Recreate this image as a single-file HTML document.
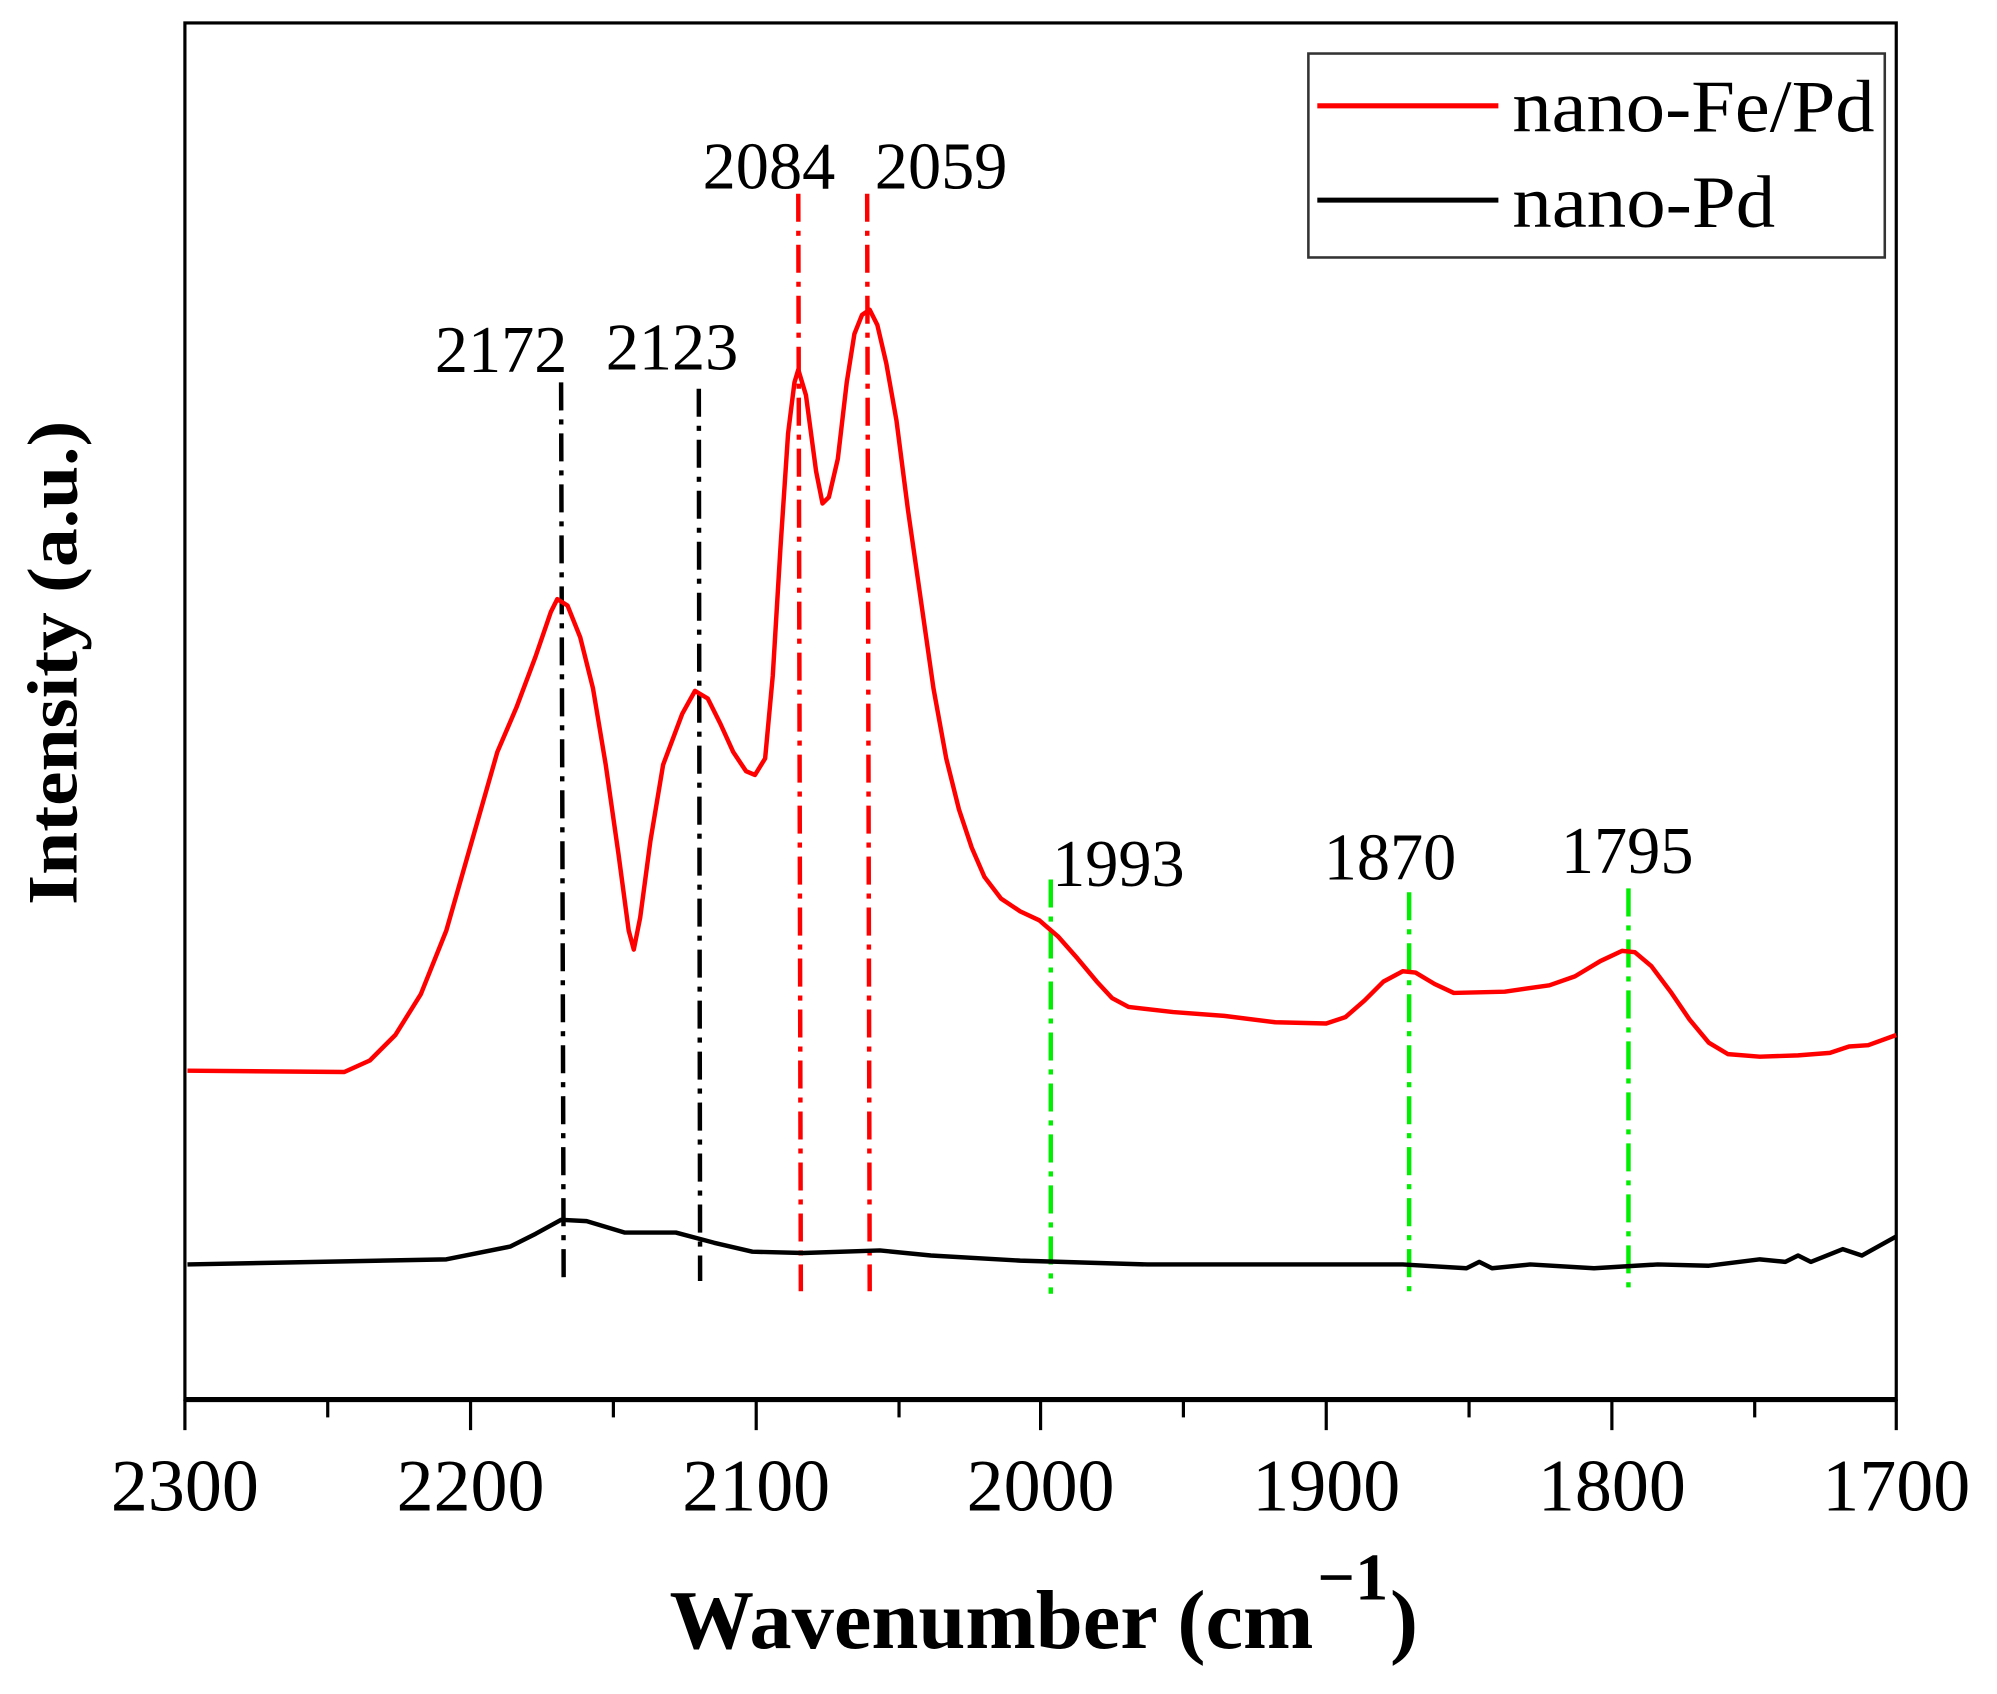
<!DOCTYPE html>
<html><head><meta charset="utf-8"><style>
html,body{margin:0;padding:0;background:#fff;}
svg{display:block;}
text{font-family:"Liberation Serif",serif;}
</style></head><body>
<svg width="1997" height="1694" viewBox="0 0 1566 1329" preserveAspectRatio="none" xmlns="http://www.w3.org/2000/svg">
<rect x="0" y="0" width="1566" height="1329" fill="#fff"/>
<rect x="145" y="18" width="1342" height="1080" fill="none" stroke="#000" stroke-width="2.5"/>
<line x1="145" y1="1098" x2="1487" y2="1098" stroke="#000" stroke-width="4"/>
<g stroke="#000" stroke-width="2.5">
<line x1="145" y1="1098" x2="145" y2="1122"/><line x1="257" y1="1098" x2="257" y2="1112"/>
<line x1="369" y1="1098" x2="369" y2="1122"/><line x1="481" y1="1098" x2="481" y2="1112"/>
<line x1="593" y1="1098" x2="593" y2="1122"/><line x1="705" y1="1098" x2="705" y2="1112"/>
<line x1="816" y1="1098" x2="816" y2="1122"/><line x1="928" y1="1098" x2="928" y2="1112"/>
<line x1="1040" y1="1098" x2="1040" y2="1122"/><line x1="1152" y1="1098" x2="1152" y2="1112"/>
<line x1="1264" y1="1098" x2="1264" y2="1122"/><line x1="1376" y1="1098" x2="1376" y2="1112"/>
<line x1="1487" y1="1098" x2="1487" y2="1122"/>
</g>
<g font-size="58" text-anchor="middle" fill="#000">
<text x="145" y="1185" textLength="116" lengthAdjust="spacingAndGlyphs">2300</text>
<text x="369" y="1185" textLength="116" lengthAdjust="spacingAndGlyphs">2200</text>
<text x="593" y="1185" textLength="116" lengthAdjust="spacingAndGlyphs">2100</text>
<text x="816" y="1185" textLength="116" lengthAdjust="spacingAndGlyphs">2000</text>
<text x="1040" y="1185" textLength="116" lengthAdjust="spacingAndGlyphs">1900</text>
<text x="1264" y="1185" textLength="116" lengthAdjust="spacingAndGlyphs">1800</text>
<text x="1487" y="1185" textLength="116" lengthAdjust="spacingAndGlyphs">1700</text>
</g>
<text x="525" y="1293" font-size="66" font-weight="bold" textLength="505" lengthAdjust="spacingAndGlyphs">Wavenumber (cm</text>
<text x="1033" y="1255" font-size="52" font-weight="bold">−1</text>
<text x="1090" y="1293" font-size="66" font-weight="bold">)</text>
<text transform="translate(60,520) rotate(-90)" font-size="56" font-weight="bold" text-anchor="middle" textLength="380" lengthAdjust="spacingAndGlyphs">Intensity (a.u.)</text>
<rect x="1026" y="42" width="452" height="160" fill="#fff" stroke="#333" stroke-width="2"/>
<line x1="1033" y1="83" x2="1175" y2="83" stroke="#f00" stroke-width="4"/>
<line x1="1033" y1="157" x2="1175" y2="157" stroke="#000" stroke-width="4"/>
<text x="1186" y="103" font-size="58" textLength="284" lengthAdjust="spacingAndGlyphs">nano-Fe/Pd</text>
<text x="1186" y="178" font-size="58" textLength="206" lengthAdjust="spacingAndGlyphs">nano-Pd</text>
<g stroke-width="3.5" stroke-dasharray="22,7,4,7" fill="none">
<line x1="440" y1="300" x2="442" y2="1005" stroke="#000"/>
<line x1="548" y1="305" x2="549" y2="1005" stroke="#000"/>
<line x1="626" y1="152" x2="628" y2="1013" stroke="#f00"/>
<line x1="680" y1="152" x2="682" y2="1013" stroke="#f00"/>
<line x1="824" y1="690" x2="824" y2="1015" stroke="#0e0"/>
<line x1="1105" y1="700" x2="1105" y2="1015" stroke="#0e0"/>
<line x1="1277" y1="697" x2="1277" y2="1010" stroke="#0e0"/>
</g>
<g font-size="52" text-anchor="middle">
<text x="393" y="292">2172</text><text x="527" y="290">2123</text>
<text x="603" y="148">2084</text><text x="738" y="148">2059</text>
<text x="877" y="695">1993</text><text x="1090" y="690">1870</text><text x="1276" y="685">1795</text>
</g>
<polyline fill="none" stroke="#f00" stroke-width="3.5" stroke-linejoin="round" points="147,840 270,841 290,832 310,812 330,780 350,730 370,660 390,590 405,555 420,515 432,480 437,470 445,475 455,500 465,540 475,600 485,670 493,730 497,745 502,720 510,660 520,600 535,560 545,542 555,548 565,568 575,590 585,605 592,608 600,595 606,530 612,430 618,340 623,300 626,290 632,310 640,370 645,395 650,390 657,360 664,300 670,262 676,247 682,243 688,255 695,285 703,330 712,400 722,470 732,540 742,595 752,635 762,665 772,688 785,705 800,715 815,722 830,735 845,752 860,770 872,783 885,790 920,794 960,797 1000,802 1040,803 1055,798 1070,785 1085,770 1100,762 1110,763 1125,772 1140,779 1180,778 1215,773 1235,766 1255,754 1272,746 1282,747 1295,758 1310,778 1325,800 1340,818 1355,827 1380,829 1410,828 1435,826 1450,821 1465,820 1487,812"/>
<polyline fill="none" stroke="#000" stroke-width="3.5" stroke-linejoin="round" points="147,992 350,988 400,978 420,968 440,957 460,958 490,967 530,967 560,975 590,982 630,983 690,981 730,985 800,989 900,992 1000,992 1100,992 1150,995 1160,990 1170,995 1200,992 1250,995 1300,992 1340,993 1380,988 1400,990 1410,985 1420,990 1445,980 1460,985 1487,970"/>
</svg>
</body></html>
